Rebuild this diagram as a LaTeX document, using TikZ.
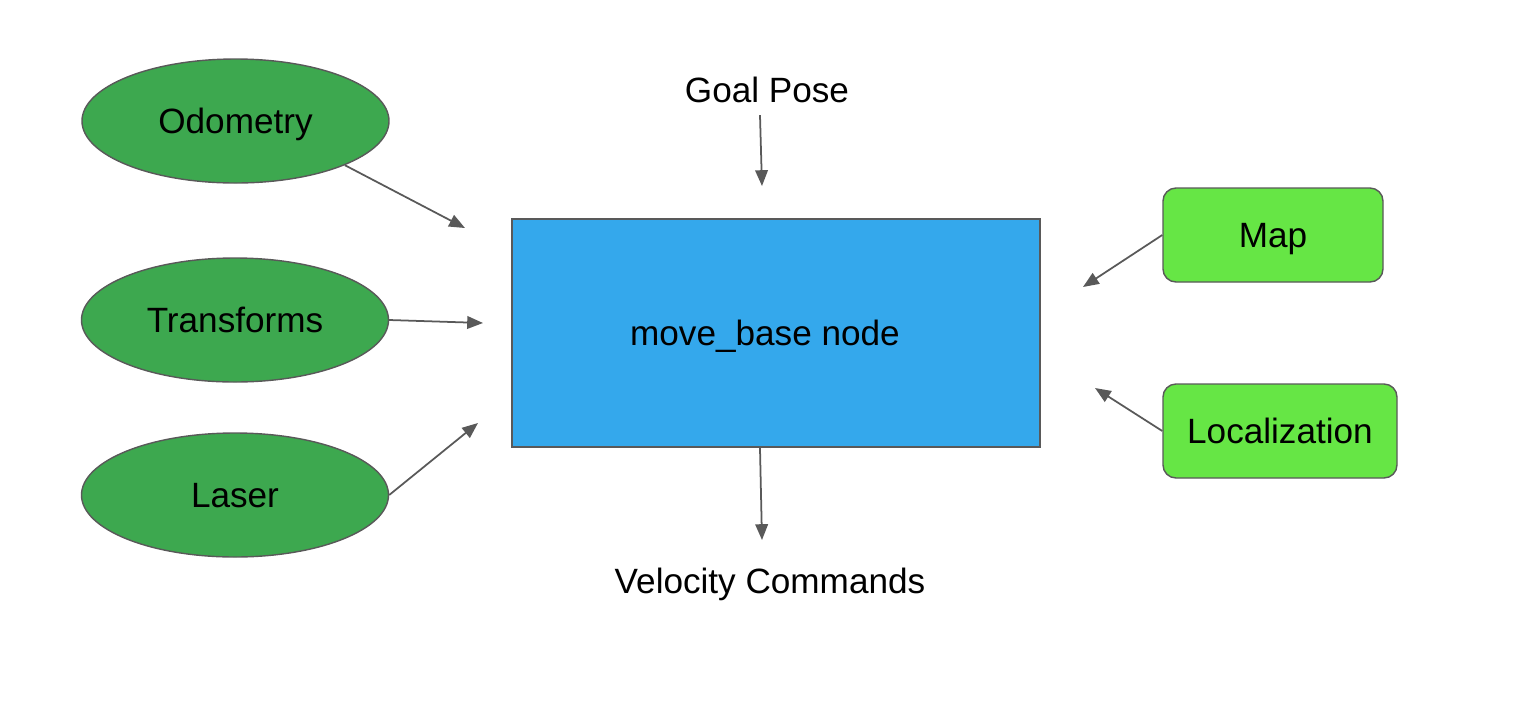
\documentclass[tikz,border=0pt]{standalone}
\usepackage{fontspec}
\setmainfont{Liberation Sans}
\usetikzlibrary{shapes.geometric,arrows.meta}
\definecolor{sourcegreen}{RGB}{61,168,79}
\definecolor{inputgreen}{RGB}{102,230,69}
\definecolor{basenode}{RGB}{52,168,236}
\definecolor{edgegray}{RGB}{89,89,89}
\begin{document}
\begin{tikzpicture}[
	every node/.style={font=\fontsize{10}{12}\selectfont, text height=7.2pt, text depth=0pt},
	source/.style={ellipse, draw=edgegray, line width=0.4pt, fill=sourcegreen, minimum width=3.07cm, minimum height=1.24cm, inner sep=0pt},
	input/.style={rectangle, rounded corners=0.13cm, draw=edgegray, line width=0.4pt, fill=inputgreen, minimum height=0.94cm, inner sep=0pt},
	flow/.style={-{Triangle[length=4.5pt,width=3.6pt]}, draw=edgegray, line width=0.5pt}
	]
	\useasboundingbox (0,0) rectangle (15.2,7);

	\node [source] (odo) at (2.355,5.79) {Odometry};
	\node [source] (tf) at (2.35,3.80) {Transforms};
	\node [source] (laser) at (2.35,2.05) {Laser};

	\node [rectangle, draw=edgegray, line width=0.6pt, fill=basenode, minimum width=5.28cm, minimum height=2.28cm] (base) at (7.76,3.67) {};
	\node (basetext) at (7.65,3.67) {move\_base node};

	\node [input, minimum width=2.20cm] (map) at (12.73,4.65) {Map};
	\node [input, minimum width=2.34cm] (loc) at (12.80,2.69) {Localization};

	\node (goal) at (7.67,6.10) {Goal Pose};
	\node (vel) at (7.70,1.19) {Velocity Commands};

	\coordinate (odoin) at (4.65,4.72);
	\coordinate (tfin) at (4.83,3.77);
	\coordinate (laserin) at (4.78,2.77);
	\coordinate (mapin) at (10.83,4.13);
	\coordinate (locin) at (10.95,3.12);
	\coordinate (goalin) at (7.62,5.14);
	\coordinate (velin) at (7.62,1.60);

	\draw [flow] (odo.-22) -- (odoin);
	\draw [flow] (tf.east) -- (tfin);
	\draw [flow] (laser.east) -- (laserin);
	\draw [flow] (map.west) -- (mapin);
	\draw [flow] (loc.west) -- (locin);
	\draw [flow] ([xshift=-0.07cm]goal.south) -- (goalin);
	\draw [flow] ([xshift=-0.16cm]base.south) -- (velin);
\end{tikzpicture}
\end{document}
